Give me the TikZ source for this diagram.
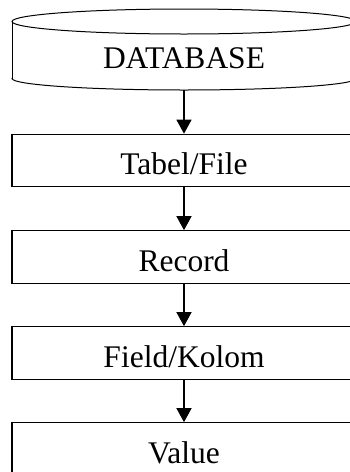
\documentclass[tikz,border=0pt]{standalone}
\usepackage{fontspec}
\setmainfont{Liberation Serif}
\usetikzlibrary{arrows.meta}
\begin{document}
\begin{tikzpicture}[x=1pt,y=-1pt,
  lvlbox/.style={draw, line width=1.2pt, minimum width=344pt, minimum height=52.5pt,
    inner sep=0pt, text height=28pt, text depth=0pt,
    font=\fontsize{31.5}{36}\selectfont},
  flow/.style={line width=1.5pt, -{Triangle[length=14pt,width=15pt]}}]
\useasboundingbox (0,0) rectangle (350,472);
\clip (0,0) rectangle (350,472);
% cylinder
\draw[line width=1pt] (184,21.5) ellipse [x radius=172, y radius=12.5];
\draw[line width=1pt] (12,21.5) -- (12,78.5);
\draw[line width=1pt] (356,21.5) -- (356,78.5);
\begin{scope}
  \clip (0,78.5) rectangle (360,100);
  \draw[line width=1pt] (184,78.5) ellipse [x radius=172, y radius=11.5];
\end{scope}
\node[minimum width=344pt, minimum height=81pt, inner sep=0pt, text height=37.6pt, text depth=0pt,
  font=\fontsize{31.5}{36}\selectfont] (db) at (184,49.5) {DATABASE};
% boxes
\node[lvlbox] (tabel) at (184,160.5) {Tabel/File};
\node[lvlbox] (record) at (184,257) {Record};
\node[lvlbox] (field) at (184,353) {Field/Kolom};
\node[lvlbox] (value) at (184,449) {Value};
% arrows
\draw[flow] (db.south) -- (tabel.north);
\draw[flow] (tabel.south) -- (record.north);
\draw[flow] (record.south) -- (field.north);
\draw[flow] (field.south) -- (value.north);
\end{tikzpicture}
\end{document}
